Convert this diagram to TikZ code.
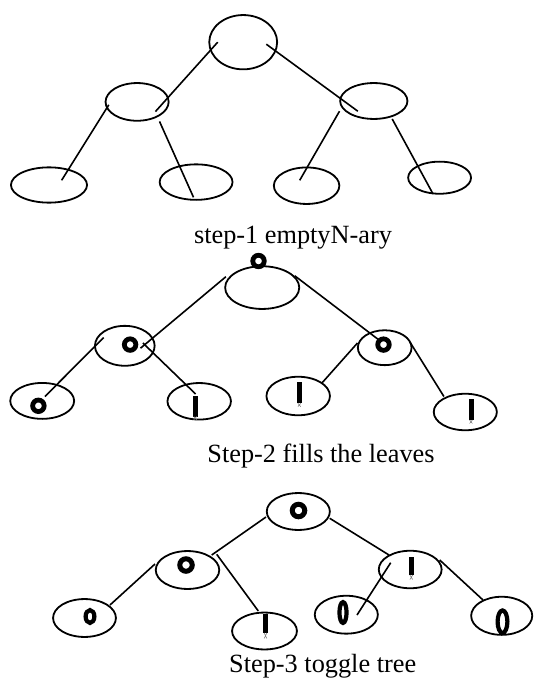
\documentclass[tikz,border=0pt]{standalone}
\usepackage{fontspec}
\setmainfont{Liberation Serif}
\usetikzlibrary{shapes.geometric}

\tikzset{
  oval/.style={draw, ellipse, inner sep=0pt, line width=1.8pt},
  edge/.style={line width=1.6pt},
  ring/.style={draw, circle, line width=4.8pt, inner sep=0pt, minimum size=11.5pt},
  bigring/.style={ring, line width=5pt, minimum size=12.5pt},
  zero/.style={draw, ellipse, line width=4.2pt, inner sep=0pt},
  bit/.style={rectangle, fill=black, inner sep=0pt, minimum width=5pt},
  tick/.style={gray, line width=0.6pt},
  caption/.style={font=\fontsize{26.3}{30}\selectfont, inner sep=0pt, anchor=base}
}

% one leaf value "1": a bar with a small grey cross under it
\newcommand\onebit[5]{% name, x, top, bottom, tick bottom
  \node[bit, minimum height=#4pt-#3pt] (#1) at (#2, {(#3+#4)/2}) {};
  \draw[tick] (#2-1.4, #4) -- (#2+1.4, #5) (#2+1.4, #4) -- (#2-1.4, #5);
}

\begin{document}
\begin{tikzpicture}[x=1pt, y=-1pt]
\useasboundingbox (0,0) rectangle (533,679);

% ---------------- step 1: empty tree ----------------
\node[oval, minimum width=67.9pt, minimum height=54.3pt] (a0) at (243.2,42.2) {};
\node[oval, minimum width=63.1pt, minimum height=37.7pt] (a1) at (137.1,101.9) {};
\node[oval, minimum width=67.3pt, minimum height=35.9pt] (a2) at (373.8,101) {};
\node[oval, minimum width=76.1pt, minimum height=35.3pt] (a3) at (49,185) {};
\node[oval, minimum width=72.9pt, minimum height=35.5pt] (a4) at (196.1,182.1) {};
\node[oval, minimum width=65.5pt, minimum height=36.5pt] (a5) at (306.6,185.7) {};
\node[oval, minimum width=62.9pt, minimum height=32.1pt] (a6) at (439.6,177.7) {};

\coordinate (a0l) at (217.7,42.2);  \coordinate (a1u) at (155.4,111.6);
\coordinate (a0r) at (266.3,44.2);  \coordinate (a2u) at (357.8,111.2);
\coordinate (a1l) at (108.8,104.8); \coordinate (a3u) at (61.6,180.3);
\coordinate (a1r) at (159.5,121.4); \coordinate (a4u) at (193.5,197.3);
\coordinate (a2l) at (339.5,111.2); \coordinate (a5u) at (299.7,180.3);
\coordinate (a2r) at (392.2,119);   \coordinate (a6u) at (433,193.9);
\draw[edge] (a0l) -- (a1u);
\draw[edge] (a0r) -- (a2u);
\draw[edge] (a1l) -- (a3u);
\draw[edge] (a1r) -- (a4u);
\draw[edge] (a2l) -- (a5u);
\draw[edge] (a2r) -- (a6u);

\node[caption] (cap1) at (293,243.7) {step-1 emptyN-ary};

% ---------------- step 2: leaves filled ----------------
\node[oval, minimum width=74.1pt, minimum height=42.7pt] (b0) at (262.2,287.6) {};
\node[oval, minimum width=59.7pt, minimum height=39.9pt] (b1) at (124.8,345.8) {};
\node[oval, minimum width=53.7pt, minimum height=34.9pt] (b2) at (384.7,347.7) {};
\node[oval, minimum width=63.9pt, minimum height=35.9pt] (b3) at (42.2,400.9) {};
\node[oval, minimum width=63.5pt, minimum height=36.5pt] (b4) at (199.2,401.3) {};
\node[oval, minimum width=63.5pt, minimum height=38.5pt] (b5) at (298.2,396) {};
\node[oval, minimum width=63.1pt, minimum height=36.5pt] (b6) at (465.3,412) {};

\coordinate (b0l) at (225.9,276.7); \coordinate (b1u) at (140.5,348.2);
\coordinate (b0r) at (294.6,275.7); \coordinate (b2u) at (380.3,341);
\coordinate (b1l) at (103.7,337.6); \coordinate (b3u) at (44.9,396.5);
\coordinate (b1r) at (142.9,343);   \coordinate (b4u) at (195.6,394);
\coordinate (b2l) at (357.5,343);   \coordinate (b5u) at (321.5,383.5);
\coordinate (b2r) at (409.9,342);   \coordinate (b6u) at (443.9,396.5);
\draw[edge] (b0l) -- (b1u);
\draw[edge] (b0r) -- (b2u);
\draw[edge] (b1l) -- (b3u);
\draw[edge] (b1r) -- (b4u);
\draw[edge] (b2l) -- (b5u);
\draw[edge] (b2r) -- (b6u);

\node[ring] (b0v) at (258.5,261) {};
\node[ring] (b1v) at (130.1,344.6) {};
\node[ring] (b2v) at (383.5,344.6) {};
\node[ring] (b3v) at (38.4,405.8) {};
\onebit{b4v}{195.2}{396}{416.5}{419.8}
\onebit{b5v}{299.3}{382.3}{403.3}{406.6}
\onebit{b6v}{471}{399}{420}{423.5}

\node[caption] (cap2) at (321,462.1) {Step-2 fills the leaves};

% ---------------- step 3: toggled tree ----------------
\node[oval, minimum width=63.1pt, minimum height=36.9pt] (c0) at (298.3,511.5) {};
\node[oval, minimum width=63.5pt, minimum height=37.9pt] (c1) at (187.5,570) {};
\node[oval, minimum width=62.9pt, minimum height=37.5pt] (c2) at (410.2,569.5) {};
\node[oval, minimum width=62.9pt, minimum height=37.9pt] (c3) at (84.5,618) {};
\node[oval, minimum width=64.9pt, minimum height=36.9pt] (c4) at (264.5,631) {};
\node[oval, minimum width=63.1pt, minimum height=37.9pt] (c5) at (346.3,614.7) {};
\node[oval, minimum width=61.1pt, minimum height=38.1pt] (c6) at (501.7,615.8) {};

\coordinate (c0l) at (266,517);     \coordinate (c1u) at (211.7,555);
\coordinate (c0r) at (329.7,518.3); \coordinate (c2u) at (389,555);
\coordinate (c1l) at (155,564);     \coordinate (c3u) at (110,605);
\coordinate (c1r) at (216.7,554.3); \coordinate (c4u) at (258.3,611);
\coordinate (c2l) at (390.7,562.7); \coordinate (c5u) at (357,615);
\coordinate (c2r) at (439.7,560);   \coordinate (c6u) at (483,600);
\draw[edge] (c0l) -- (c1u);
\draw[edge] (c0r) -- (c2u);
\draw[edge] (c1l) -- (c3u);
\draw[edge] (c1r) -- (c4u);
\draw[edge] (c2l) -- (c5u);
\draw[edge] (c2r) -- (c6u);

\node[bigring] (c0v) at (298.5,510.5) {};
\node[bigring] (c1v) at (186,565) {};
\onebit{c2v}{411.3}{556.7}{575}{579.5}
\node[zero, minimum width=8.8pt, minimum height=12.8pt] (c3v) at (90,616.5) {};
\onebit{c4v}{265.5}{614}{633}{638.5}
\node[zero, minimum width=7.1pt, minimum height=20.8pt] (c5v) at (343,612.5) {};
\node[zero, minimum width=9.8pt, minimum height=22.5pt] (c6v) at (502.5,621.7) {};

\node[caption] (cap3) at (322.7,672.5) {Step-3 toggle tree};
\end{tikzpicture}
\end{document}
